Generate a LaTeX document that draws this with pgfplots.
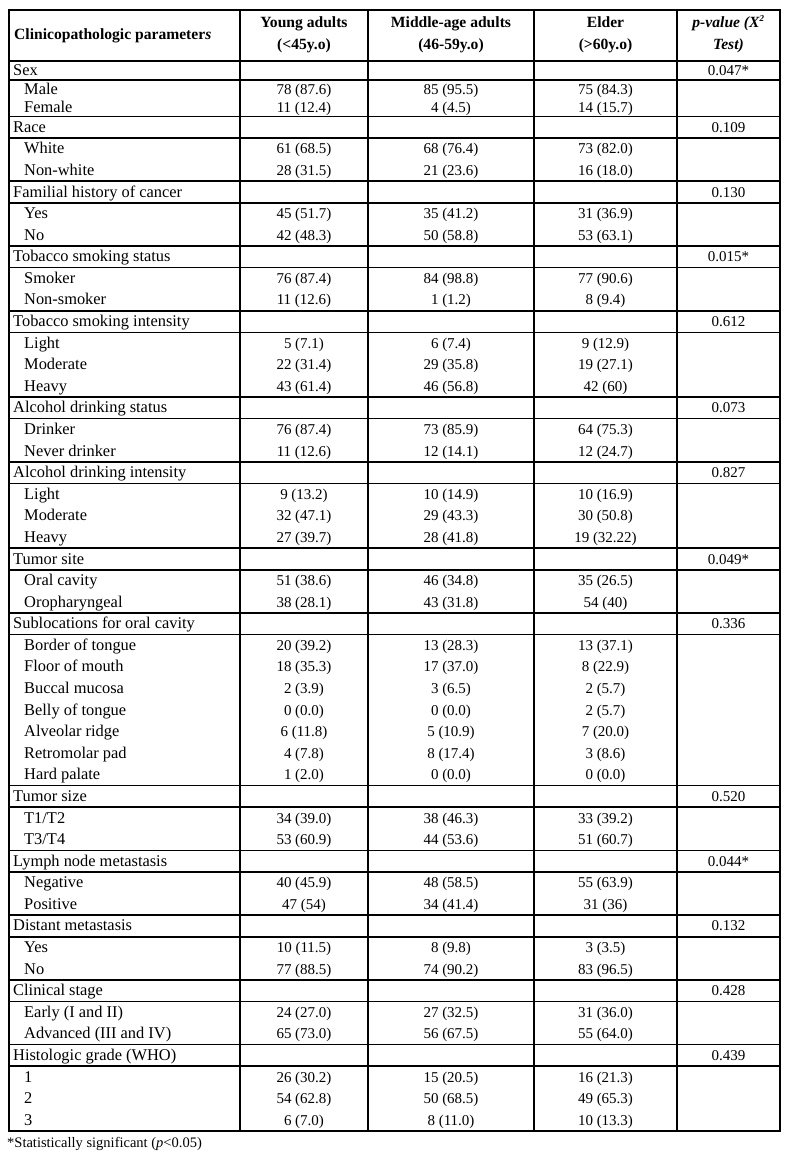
\documentclass[border=0pt]{standalone}
\usepackage{fontspec}
\setmainfont{Liberation Serif}
\usepackage{pgfplots}
\usepackage{pgfplotstable}
\pgfplotsset{compat=1.18}

\pgfplotstableread[col sep=comma]{
y,x,name,a,b,c,p
70.5,13,Sex,{},{},{},0.047*
89,24,Male,78 (87.6),85 (95.5),75 (84.3),{}
107.5,24,Female,11 (12.4),4 (4.5),14 (15.7),{}
127.29,13,Race,{},{},{},0.109
148.88,24,White,61 (68.5),68 (76.4),73 (82.0),{}
170.47,24,Non-white,28 (31.5),21 (23.6),16 (18.0),{}
192.05,13,Familial history of cancer,{},{},{},0.130
213.64,24,Yes,45 (51.7),35 (41.2),31 (36.9),{}
235.22,24,No,42 (48.3),50 (58.8),53 (63.1),{}
256.81,13,Tobacco smoking status,{},{},{},0.015*
278.39,24,Smoker,76 (87.4),84 (98.8),77 (90.6),{}
299.98,24,Non-smoker,11 (12.6),1 (1.2),8 (9.4),{}
321.56,13,Tobacco smoking intensity,{},{},{},0.612
343.15,24,Light,5 (7.1),6 (7.4),9 (12.9),{}
364.73,24,Moderate,22 (31.4),29 (35.8),19 (27.1),{}
386.32,24,Heavy,43 (61.4),46 (56.8),42 (60),{}
407.90,13,Alcohol drinking status,{},{},{},0.073
429.49,24,Drinker,76 (87.4),73 (85.9),64 (75.3),{}
451.07,24,Never drinker,11 (12.6),12 (14.1),12 (24.7),{}
472.66,13,Alcohol drinking intensity,{},{},{},0.827
494.24,24,Light,9 (13.2),10 (14.9),10 (16.9),{}
515.83,24,Moderate,32 (47.1),29 (43.3),30 (50.8),{}
537.41,24,Heavy,27 (39.7),28 (41.8),19 (32.22),{}
559.00,13,Tumor site,{},{},{},0.049*
580.58,24,Oral cavity,51 (38.6),46 (34.8),35 (26.5),{}
602.17,24,Oropharyngeal,38 (28.1),43 (31.8),54 (40),{}
623.75,13,Sublocations for oral cavity,{},{},{},0.336
645.34,24,Border of tongue,20 (39.2),13 (28.3),13 (37.1),{}
666.92,24,Floor of mouth,18 (35.3),17 (37.0),8 (22.9),{}
688.51,24,Buccal mucosa,2 (3.9),3 (6.5),2 (5.7),{}
710.09,24,Belly of tongue,0 (0.0),0 (0.0),2 (5.7),{}
731.68,24,Alveolar ridge,6 (11.8),5 (10.9),7 (20.0),{}
753.26,24,Retromolar pad,4 (7.8),8 (17.4),3 (8.6),{}
774.85,24,Hard palate,1 (2.0),0 (0.0),0 (0.0),{}
796.43,13,Tumor size,{},{},{},0.520
818.02,24,T1/T2,34 (39.0),38 (46.3),33 (39.2),{}
839.60,24,T3/T4,53 (60.9),44 (53.6),51 (60.7),{}
861.19,13,Lymph node metastasis,{},{},{},0.044*
882.77,24,Negative,40 (45.9),48 (58.5),55 (63.9),{}
904.36,24,Positive,47 (54),34 (41.4),31 (36),{}
925.94,13,Distant metastasis,{},{},{},0.132
947.53,24,Yes,10 (11.5),8 (9.8),3 (3.5),{}
969.11,24,No,77 (88.5),74 (90.2),83 (96.5),{}
990.70,13,Clinical stage,{},{},{},0.428
1012.28,24,Early (I and II),24 (27.0),27 (32.5),31 (36.0),{}
1033.87,24,Advanced (III and IV),65 (73.0),56 (67.5),55 (64.0),{}
1055.45,13,Histologic grade (WHO),{},{},{},0.439
1077.04,24,1,26 (30.2),15 (20.5),16 (21.3),{}
1098.62,24,2,54 (62.8),50 (68.5),49 (65.3),{}
1120.21,24,3,6 (7.0),8 (11.0),10 (13.3),{}
}\tab

\newcommand{\fs}{\fontsize{15bp}{18bp}\selectfont}
\newcommand{\fl}{\fontsize{16.4bp}{19bp}\selectfont}
\newcommand{\fh}{\fontsize{15.6bp}{19bp}\selectfont}

\begin{document}
\fs
\begin{tikzpicture}
\begin{axis}[
  width=771bp, height=1121bp, scale only axis,
  xmin=9, xmax=780, ymin=10, ymax=1131, y dir=reverse,
  clip=false,
  axis line style={line width=2bp, black},
  xtick={240,368,534,677},
  ytick={61,80,116.5,138.09,181.26,202.84,246.01,267.60,310.77,332.35,397.11,418.69,461.86,483.45,548.20,569.79,612.96,634.54,785.64,807.22,850.39,871.98,915.15,936.73,979.90,1001.49,1044.66,1066.24},
  xticklabels={}, yticklabels={},
  tick label style={inner sep=0pt, outer sep=0pt, text opacity=0},
  major tick length=0pt,
  grid=major,
  major grid style={line width=1.6bp, black},
  point meta=explicit symbolic,
]
\addplot[draw=none, mark=none, nodes near coords,
  every node near coord/.style={anchor=base west, inner sep=0pt, font=\fl, text=black}]
  table[x=x, y expr=\thisrow{y}+5, meta=name]{\tab};
\addplot[draw=none, mark=none, nodes near coords,
  every node near coord/.style={anchor=base, inner sep=0pt, font=\fs, text=black}]
  table[x expr=304, y expr=\thisrow{y}+5, meta=a]{\tab};
\addplot[draw=none, mark=none, nodes near coords,
  every node near coord/.style={anchor=base, inner sep=0pt, font=\fs, text=black}]
  table[x expr=451, y expr=\thisrow{y}+5, meta=b]{\tab};
\addplot[draw=none, mark=none, nodes near coords,
  every node near coord/.style={anchor=base, inner sep=0pt, font=\fs, text=black}]
  table[x expr=605.5, y expr=\thisrow{y}+5, meta=c]{\tab};
\addplot[draw=none, mark=none, nodes near coords,
  every node near coord/.style={anchor=base, inner sep=0pt, font=\fs, text=black}]
  table[x expr=728.5, y expr=\thisrow{y}+5, meta=p]{\tab};

\node[anchor=base west, inner sep=0pt, font=\fh] at (axis cs:14,39.5) {\textbf{Clinicopathologic parameter\textit{s}}};
\node[anchor=base, inner sep=0pt, font=\fh] at (axis cs:304,27) {\textbf{Young adults}};
\node[anchor=base, inner sep=0pt, font=\fh] at (axis cs:304,49) {\textbf{(<45y.o)}};
\node[anchor=base, inner sep=0pt, font=\fh] at (axis cs:451,27) {\textbf{Middle-age adults}};
\node[anchor=base, inner sep=0pt, font=\fh] at (axis cs:451,49) {\textbf{(46-59y.o)}};
\node[anchor=base, inner sep=0pt, font=\fh] at (axis cs:605.5,27) {\textbf{Elder}};
\node[anchor=base, inner sep=0pt, font=\fh] at (axis cs:605.5,49) {\textbf{(>60y.o)}};
\node[anchor=base, inner sep=0pt, font=\fh] at (axis cs:728.5,27) {\textbf{\textit{p-value (X\textsuperscript{\fontsize{9bp}{10bp}\selectfont 2}}}};
\node[anchor=base, inner sep=0pt, font=\fh] at (axis cs:728.5,49) {\textbf{\textit{Test)}}};
\node[anchor=base west, inner sep=0pt, font=\fontsize{14.5bp}{16bp}\selectfont] at (axis cs:7,1147) {*Statistically significant (\textit{p}<0.05)};

\coordinate (BL) at (axis cs:0,1164);
\coordinate (TR) at (axis cs:791,0);
\end{axis}
\pgfresetboundingbox
\useasboundingbox (BL) rectangle (TR);
\end{tikzpicture}
\end{document}
